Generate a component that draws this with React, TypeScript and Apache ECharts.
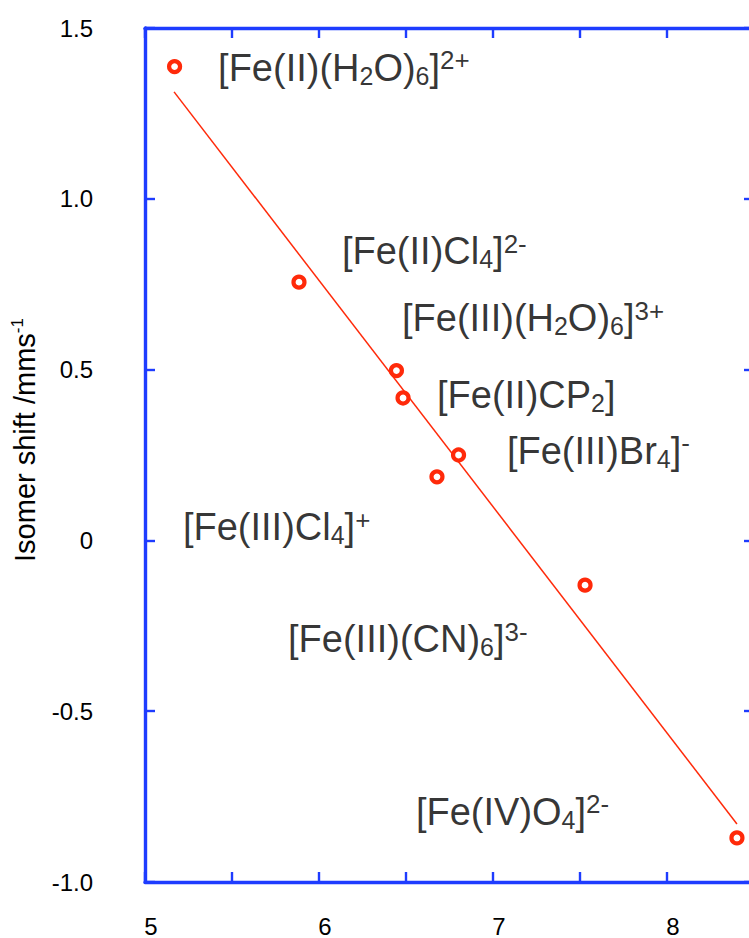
import React, { useEffect, useRef } from "react";
import * as echarts from "echarts";

// Measured points: [x, isomer shift]
const pointX = [5.17, 5.885, 6.445, 6.483, 6.802, 6.678, 7.529, 8.402];
const pointY = [1.387, 0.756, 0.497, 0.417, 0.25, 0.186, -0.131, -0.871];

// Fitted line end points
const fitX = [5.167, 8.402];
const fitY = [1.313, -0.83];

// Compound annotations (rich text) and their anchor positions (left edge, middle)
const labelTexts = [
  "[Fe(II)(H{s|2}O){s|6}]{p|2+}",
  "[Fe(II)Cl{s|4}]{p|2-}",
  "[Fe(III)(H{s|2}O){s|6}]{p|3+}",
  "[Fe(II)CP{s|2}]",
  "[Fe(III)Br{s|4}]{p|-}",
  "[Fe(III)Cl{s|4}]{p|+}",
  "[Fe(III)(CN){s|6}]{p|3-}",
  "[Fe(IV)O{s|4}]{p|2-}",
];
const labelX = [5.42, 6.132, 6.477, 6.678, 7.08, 5.218, 5.822, 6.557];
const labelY = [1.383, 0.847, 0.651, 0.426, 0.262, 0.039, -0.289, -0.795];

// Axis settings
const xMin = 5;
const xMax = 8.5;
const xStep = 0.5;
const yMin = -1;
const yMax = 1.5;
const yStep = 0.5;

const FONT = "'Liberation Sans', Arial, Helvetica, sans-serif";
const BLUE = "#1e3cff";
const RED = "#ff2a0a";
const INK = "#000";

export default function App() {
  const ref = useRef<HTMLDivElement | null>(null);

  useEffect(() => {
    document.body.style.margin = "0";
    if (!ref.current) return;
    const chart = echarts.init(ref.current, undefined, { renderer: "svg" });

    const axisLine = { show: true, onZero: false, lineStyle: { color: BLUE, width: 3.4 } };
    const axisTick = {
      show: true,
      inside: true,
      length: 10,
      lineStyle: { color: BLUE, width: 2.4 },
    };

    const xAxisBase = {
      type: "value" as const,
      min: xMin,
      max: xMax,
      interval: xStep,
      splitLine: { show: false },
      axisLine,
      axisTick,
    };
    const yAxisBase = {
      type: "value" as const,
      min: yMin,
      max: yMax,
      interval: yStep,
      splitLine: { show: false },
      axisLine,
      axisTick,
    };

    const rich = {
      s: {
        fontSize: 25,
        lineHeight: 25,
        verticalAlign: "bottom",
        fontFamily: FONT,
        color: INK,
      },
      p: {
        fontSize: 26,
        lineHeight: 26,
        verticalAlign: "top",
        fontFamily: FONT,
        color: INK,
      },
    };

    chart.setOption({
      animation: false,
      grid: {
        left: 145,
        top: 28,
        width: 609,
        height: 854,
        containLabel: false,
        outerBoundsMode: "none",
      },
      xAxis: [
        {
          ...xAxisBase,
          position: "bottom",
          axisLabel: {
            show: true,
            margin: 32,
            fontSize: 24,
            fontFamily: FONT,
            color: INK,
            padding: [0, 0, 0, 12],
            formatter: (v: number) =>
              Math.abs(v - Math.round(v)) < 1e-9 && v < xMax ? String(v) : "",
          },
        },
        {
          ...xAxisBase,
          position: "top",
          axisLabel: { show: false },
        },
      ],
      yAxis: [
        {
          ...yAxisBase,
          position: "left",
          axisLabel: {
            show: true,
            margin: 52,
            fontSize: 24,
            fontFamily: FONT,
            color: INK,
            formatter: (v: number) => (v === 0 ? "0" : v.toFixed(1)),
          },
          name: "Isomer shift /mms{sup|-1}",
          nameLocation: "middle",
          nameRotate: 90,
          nameGap: 102,
          nameTextStyle: {
            fontSize: 29,
            fontFamily: FONT,
            color: INK,
            lineHeight: 32,
            padding: [0, 0, 0, 30],
            rich: {
              sup: {
                fontSize: 17,
                lineHeight: 17,
                verticalAlign: "top",
                fontFamily: FONT,
                color: INK,
              },
            },
          },
        },
        {
          ...yAxisBase,
          position: "right",
          axisLabel: { show: false },
        },
      ],
      series: [
        {
          type: "line",
          data: fitX.map((x, i) => [x, fitY[i]]),
          symbol: "none",
          lineStyle: { color: RED, width: 1.5 },
          silent: true,
          z: 2,
        },
        {
          type: "scatter",
          data: pointX.map((x, i) => [x, pointY[i]]),
          symbol: "circle",
          symbolSize: 11,
          itemStyle: {
            color: "#ffffff",
            borderColor: RED,
            borderWidth: 4.2,
            opacity: 1,
          },
          z: 3,
        },
        {
          type: "scatter",
          data: labelX.map((x, i) => ({ value: [x, labelY[i]], text: labelTexts[i] })),
          symbol: "circle",
          symbolSize: 0,
          itemStyle: { color: "rgba(0,0,0,0)" },
          label: {
            show: true,
            position: "right",
            distance: 0,
            fontSize: 38,
            lineHeight: 41,
            fontFamily: FONT,
            color: INK,
            formatter: (p: any) => p.data.text,
            rich,
          },
          silent: true,
          z: 4,
        },
      ],
    });

    return () => chart.dispose();
  }, []);

  return (
    <div
      ref={ref}
      style={{ position: "absolute", left: 0, top: 0, width: 749, height: 938, background: "#fff" }}
    />
  );
}
